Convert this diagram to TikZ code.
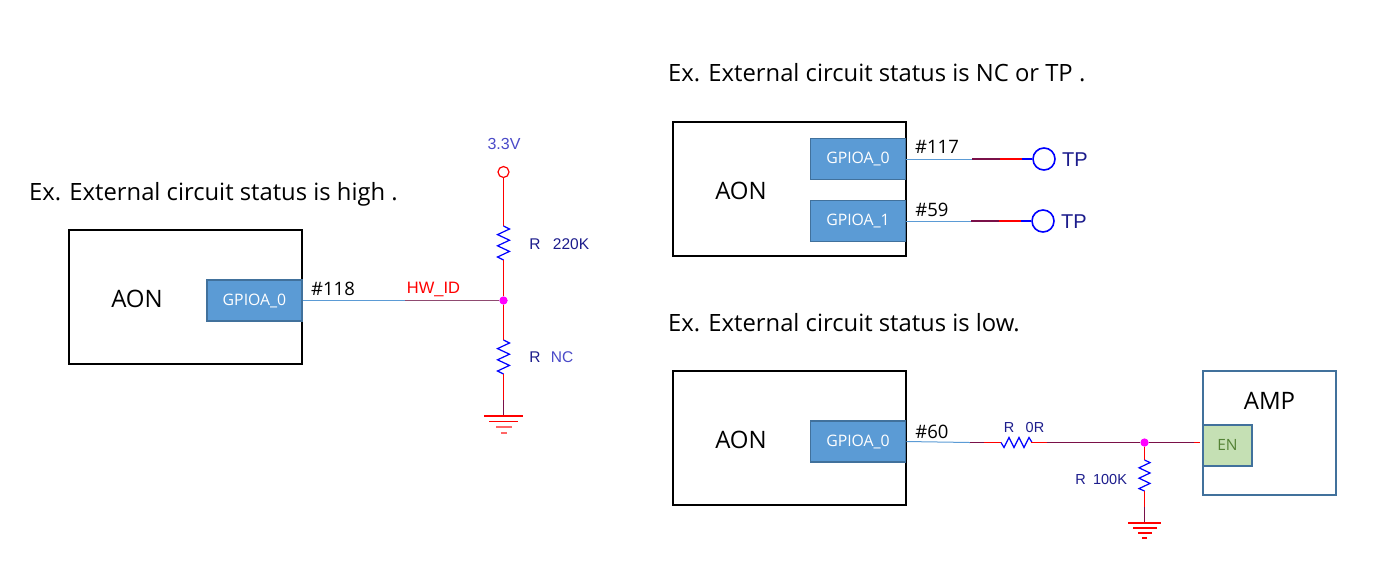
\documentclass[tikz,border=0pt]{standalone}
\usepackage{fontspec}
\setmainfont{Open Sans}
\newfontfamily\schem{Liberation Sans}
\definecolor{gpiofill}{HTML}{5B9BD5}
\definecolor{gpioedge}{HTML}{41719C}
\definecolor{wireblue}{HTML}{5B9BD5}
\definecolor{maroon}{HTML}{7A1048}
\definecolor{softmaroon}{HTML}{8F4A70}
\definecolor{navy}{HTML}{1C1C8C}
\definecolor{vblue}{HTML}{4A4AC8}
\definecolor{enfill}{HTML}{C5E0B4}
\definecolor{entext}{HTML}{548235}
\definecolor{ampedge}{HTML}{41719C}
\definecolor{jdot}{RGB}{255,0,255}
\newcommand{\fsz}[1]{\fontsize{#1}{#1}\selectfont}
\newcommand{\zigv}[1]{\draw[zig] (#1) -- ++(6,-3) -- ++(-12,-5.6) -- ++(12,-5.6) -- ++(-12,-5.6) -- ++(12,-5.6) -- ++(-12,-5.6) -- ++(6,-3);}
\newcommand{\zigh}[1]{\draw[zig] (#1) -- ++(3,-5) -- ++(5,10) -- ++(5,-10) -- ++(5,10) -- ++(5,-10) -- ++(5,10) -- ++(3,-5);}
\tikzset{
 x=1pt,y=1pt,
 aonbox/.style={draw=black,line width=2pt,fill=white,minimum width=233pt,minimum height=134pt,inner sep=0pt},
 gpio/.style={draw=gpioedge,line width=1.6pt,fill=gpiofill,text=white,font=\fsz{15.8},minimum width=95pt,minimum height=41pt,inner sep=0pt},
 ampbox/.style={draw=ampedge,line width=2pt,fill=white,minimum width=133pt,minimum height=124pt,inner sep=0pt},
 enbox/.style={draw=ampedge,line width=2pt,fill=enfill,text=entext,font=\fsz{15.5},minimum width=49pt,minimum height=41pt,inner sep=0pt},
 heading/.style={font=\fsz{23.8},anchor=west,inner sep=0pt,text=black},
 big/.style={font=\fsz{24},inner sep=0pt,text=black},
 pin/.style={font=\fsz{18.5},inner sep=0pt,text=black},
 schemtext/.style={font=\schem\fsz{15.5},inner sep=0pt,text=navy},
 bluew/.style={draw=wireblue,line width=1pt},
 redw/.style={draw=red,line width=1.2pt},
 marw/.style={draw=maroon,line width=1.6pt},
 blw/.style={draw=blue,line width=1.6pt},
 zig/.style={draw=blue,line width=1.2pt,line join=miter},
 dot/.style={circle,fill=jdot,draw=none,minimum size=8pt,inner sep=0pt},
 vcc/.style={circle,draw=red,line width=1.2pt,fill=white,minimum size=11pt,inner sep=0pt},
 tp/.style={circle,draw=blue,line width=1.6pt,fill=white,minimum size=22pt,inner sep=0pt},
}
\begin{document}
\begin{tikzpicture}
\useasboundingbox (0,0) rectangle (1396,-566);
% headings
\node[heading] (h1) at (29,-194) {Ex. External circuit status is high .};
\node[heading] (h2) at (668,-73) {Ex. External circuit status is NC or TP .};
\node[heading] (h3) at (668,-323) {Ex. External circuit status is low.};
% left block
\node[aonbox] (a1) at (185.5,-297) {};
\node[big] (a1t) at (137,-299) {AON};
\node[gpio] (g1) at (254.5,-300.5) {GPIOA\_0};
\node[pin] (p118) at (333,-289) {\#118};
\node[font=\schem\fsz{16.5},text=red,inner sep=0pt] (hw) at (433.5,-289) {HW\_ID};
\node[font=\schem\fsz{16},text=vblue,inner sep=0pt] (v33) at (504,-144) {3.3V};
\node[vcc] (vc) at (503.5,-172) {};
\node[dot] (j1) at (503.5,-300.5) {};
\coordinate (r1a) at (503.5,-226);
\coordinate (r1b) at (503.5,-260);
\coordinate (r2a) at (503.5,-340);
\coordinate (r2b) at (503.5,-374);
\coordinate (w1) at (405,-300.5);
\coordinate (gnd1) at (503.5,-416);
\coordinate (gm1) at (503.5,-400);
\draw[bluew] (g1.east) -- (w1);
\draw[draw=softmaroon,line width=1.3pt] (w1) -- (j1.west);
\draw[redw] (vc) -- (r1a);
\zigv{r1a}
\draw[redw] (r1b) -- (j1);
\draw[redw] (j1) -- (r2a);
\zigv{r2a}
\draw[redw] (r2b) -- (gm1);
\draw[marw,line width=1.2pt] (gm1) -- (gnd1);
\draw[redw] (484,-416) -- (523,-416);
\draw[redw] (489,-421.5) -- (518,-421.5);
\draw[red!60,line width=1.2pt] (496,-427) -- (512,-427);
\draw[red!60,line width=1.2pt] (501,-433) -- (507,-433);
\node[schemtext] (r1l) at (535,-244) {R};
\node[schemtext] (r1v) at (571,-244) {220K};
\node[schemtext] (r2l) at (535,-357) {R};
\node[schemtext,text=vblue] (r2v) at (562,-357) {NC};
\node[dot] at (j1) {};
% top right block
\node[aonbox] (a2) at (789.5,-189) {};
\node[big] (a2t) at (741,-191) {AON};
\node[gpio] (g2) at (858,-159) {GPIOA\_0};
\node[gpio] (g3) at (858,-221) {GPIOA\_1};
\node[pin] (p117) at (937,-147) {\#117};
\node[pin] (p59) at (932,-210) {\#59};
\node[tp] (tp1) at (1044,-159) {};
\node[tp] (tp2) at (1043,-221) {};
\node[font=\schem\fsz{20},text=navy,inner sep=0pt] (tp1t) at (1075,-160) {TP};
\node[font=\schem\fsz{20},text=navy,inner sep=0pt] (tp2t) at (1074,-221.5) {TP};
\coordinate (t1a) at (972,-159);
\coordinate (t1b) at (1000,-159);
\coordinate (t1c) at (1022,-159);
\coordinate (t2a) at (971,-221);
\coordinate (t2b) at (999,-221);
\coordinate (t2c) at (1021,-221);
\draw[bluew] (g2.east) -- (t1a);
\draw[marw] (t1a) -- (t1b);
\draw[redw,line width=1.6pt] (t1b) -- (t1c);
\draw[blw] (t1c) -- (tp1.west);
\draw[bluew] (g3.east) -- (t2a);
\draw[marw] (t2a) -- (t2b);
\draw[redw,line width=1.6pt] (t2b) -- (t2c);
\draw[blw] (t2c) -- (tp2.west);
% bottom right block
\node[aonbox] (a3) at (789.5,-438) {};
\node[big] (a3t) at (741,-440) {AON};
\node[gpio] (g4) at (858,-441.5) {GPIOA\_0};
\node[pin] (p60) at (932,-431.5) {\#60};
\node[ampbox] (amp) at (1269.5,-433) {};
\node[big] (ampt) at (1269.5,-401) {AMP};
\node[enbox] (en) at (1227.5,-445) {EN};
\node[dot] (j2) at (1144.5,-442.5) {};
\coordinate (b1) at (970,-442.5);
\coordinate (b2) at (984,-442.5);
\coordinate (b3) at (1001,-442.5);
\coordinate (b4) at (1031,-442.5);
\coordinate (b5) at (1047,-442.5);
\coordinate (b6) at (1194,-442.5);
\coordinate (b7) at (1200,-442.5);
\coordinate (r4a) at (1144.5,-460);
\coordinate (r4b) at (1144.5,-491);
\coordinate (gm2) at (1144.5,-507);
\coordinate (gnd2) at (1144.5,-523);
\draw[bluew] (g4.east) -- (b1);
\draw[marw] (b1) -- (b2);
\draw[redw] (b2) -- (b3);
\zigh{b3}
\draw[redw] (b4) -- (b5);
\draw[marw] (b5) -- (j2);
\draw[marw] (j2) -- (b6);
\draw[redw] (b6) -- (b7);
\draw[redw,line width=1.6pt] (j2) -- (r4a);
\draw[zig] (r4a) -- ++(5.5,-2.6) -- ++(-11,-5.2) -- ++(11,-5.2) -- ++(-11,-5.2) -- ++(11,-5.2) -- ++(-11,-5.2) -- (r4b);
\draw[redw,line width=1.6pt] (r4b) -- (gm2);
\draw[marw] (gm2) -- (gnd2);
\draw[redw] (1128,-523) -- (1161,-523);
\draw[redw] (1133,-528) -- (1157,-528);
\draw[redw] (1138,-533) -- (1152,-533);
\draw[redw] (1142,-538) -- (1147,-538);
\node[dot] at (j2) {};
\node[schemtext,font=\schem\fsz{14.5}] (r3l) at (1009,-427) {R};
\node[schemtext,font=\schem\fsz{14.5}] (r3v) at (1035,-427) {0R};
\node[schemtext,font=\schem\fsz{14.5}] (r4l) at (1080.5,-479) {R};
\node[schemtext,font=\schem\fsz{14.5}] (r4v) at (1110,-479) {100K};
\end{tikzpicture}
\end{document}
